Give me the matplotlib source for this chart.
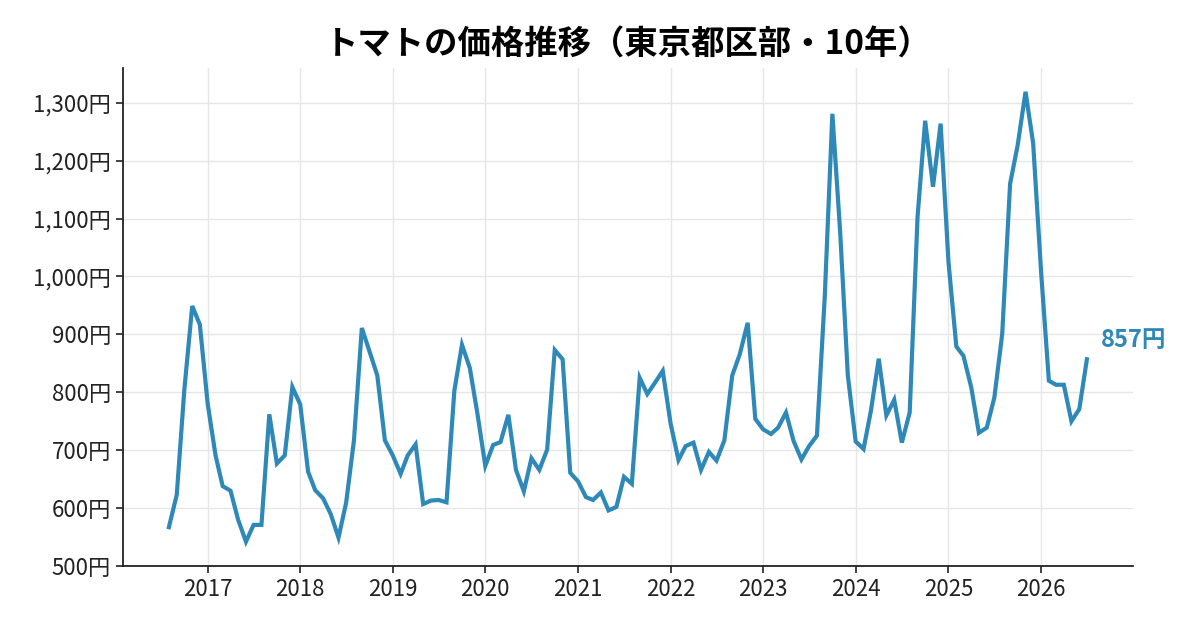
import numpy as np
import pandas as pd
import matplotlib
matplotlib.use("Agg")
import matplotlib.pyplot as plt
import matplotlib.dates as mdates
from matplotlib.ticker import FuncFormatter

plt.rcParams['font.family'] = ['Noto Sans CJK JP', 'DejaVu Sans']

# 月次価格（円）2016年8月〜2026年7月
start_month = "2016-08-01"
prices = [
    567, 623, 805, 949, 917,
    780, 691, 638, 630, 580, 542, 571, 571, 762, 677, 691, 809,
    779, 663, 631, 617, 590, 549, 609, 717, 911, 871, 829, 717,
    691, 659, 691, 710, 607, 613, 614, 610, 803, 882, 842, 763,
    673, 709, 714, 761, 666, 629, 686, 666, 701, 873, 857, 661,
    646, 619, 614, 627, 596, 602, 654, 642, 825, 797, 817, 837,
    746, 683, 707, 713, 666, 697, 682, 717, 829, 866, 920, 754,
    736, 728, 739, 765, 716, 684, 707, 725, 965, 1281, 1075, 829,
    715, 702, 768, 858, 760, 787, 713, 765, 1103, 1269, 1155, 1264,
    1025, 879, 863, 808, 730, 739, 791, 901, 1160, 1227, 1319, 1230,
    1010, 820, 813, 813, 750, 771, 857,
]
years = list(range(2017, 2027))
yticks = [500, 600, 700, 800, 900, 1000, 1100, 1200, 1300]

color = '#2E88B8'
dates = pd.date_range(start_month, periods=len(prices), freq='MS')

fig = plt.figure(figsize=(12, 6.3), dpi=100)
ax = fig.add_axes([0.1025, 0.1016, 0.8415, 0.7904])

ax.plot(dates, prices, color=color, linewidth=3.0, solid_joinstyle='miter')

ax.set_ylim(500, 1360)
ax.set_yticks(yticks)
ax.yaxis.set_major_formatter(FuncFormatter(lambda v, p: f"{int(v):,}円"))
ax.set_xticks([pd.Timestamp(f"{y}-01-01") for y in years])
ax.xaxis.set_major_formatter(mdates.DateFormatter('%Y'))

ax.grid(True, color='#e6e6e6', linewidth=1)
ax.set_axisbelow(True)
for s in ['top', 'right']:
    ax.spines[s].set_visible(False)
for s in ['left', 'bottom']:
    ax.spines[s].set_color('#222222')
    ax.spines[s].set_linewidth(1.3)
ax.tick_params(labelsize=16, colors='#222222', length=5, width=1.2)

ax.annotate(f"{prices[-1]}円", xy=(dates[-1], prices[-1]), xytext=(10, 14),
            textcoords='offset points', color=color, fontsize=17,
            fontweight='bold', va='center', ha='left')

fig.text(0.5233, 0.928, 'トマトの価格推移（東京都区部・10年）', fontsize=24,
         fontweight='bold', ha='center', va='center')

fig.savefig('out.png', dpi=100)
